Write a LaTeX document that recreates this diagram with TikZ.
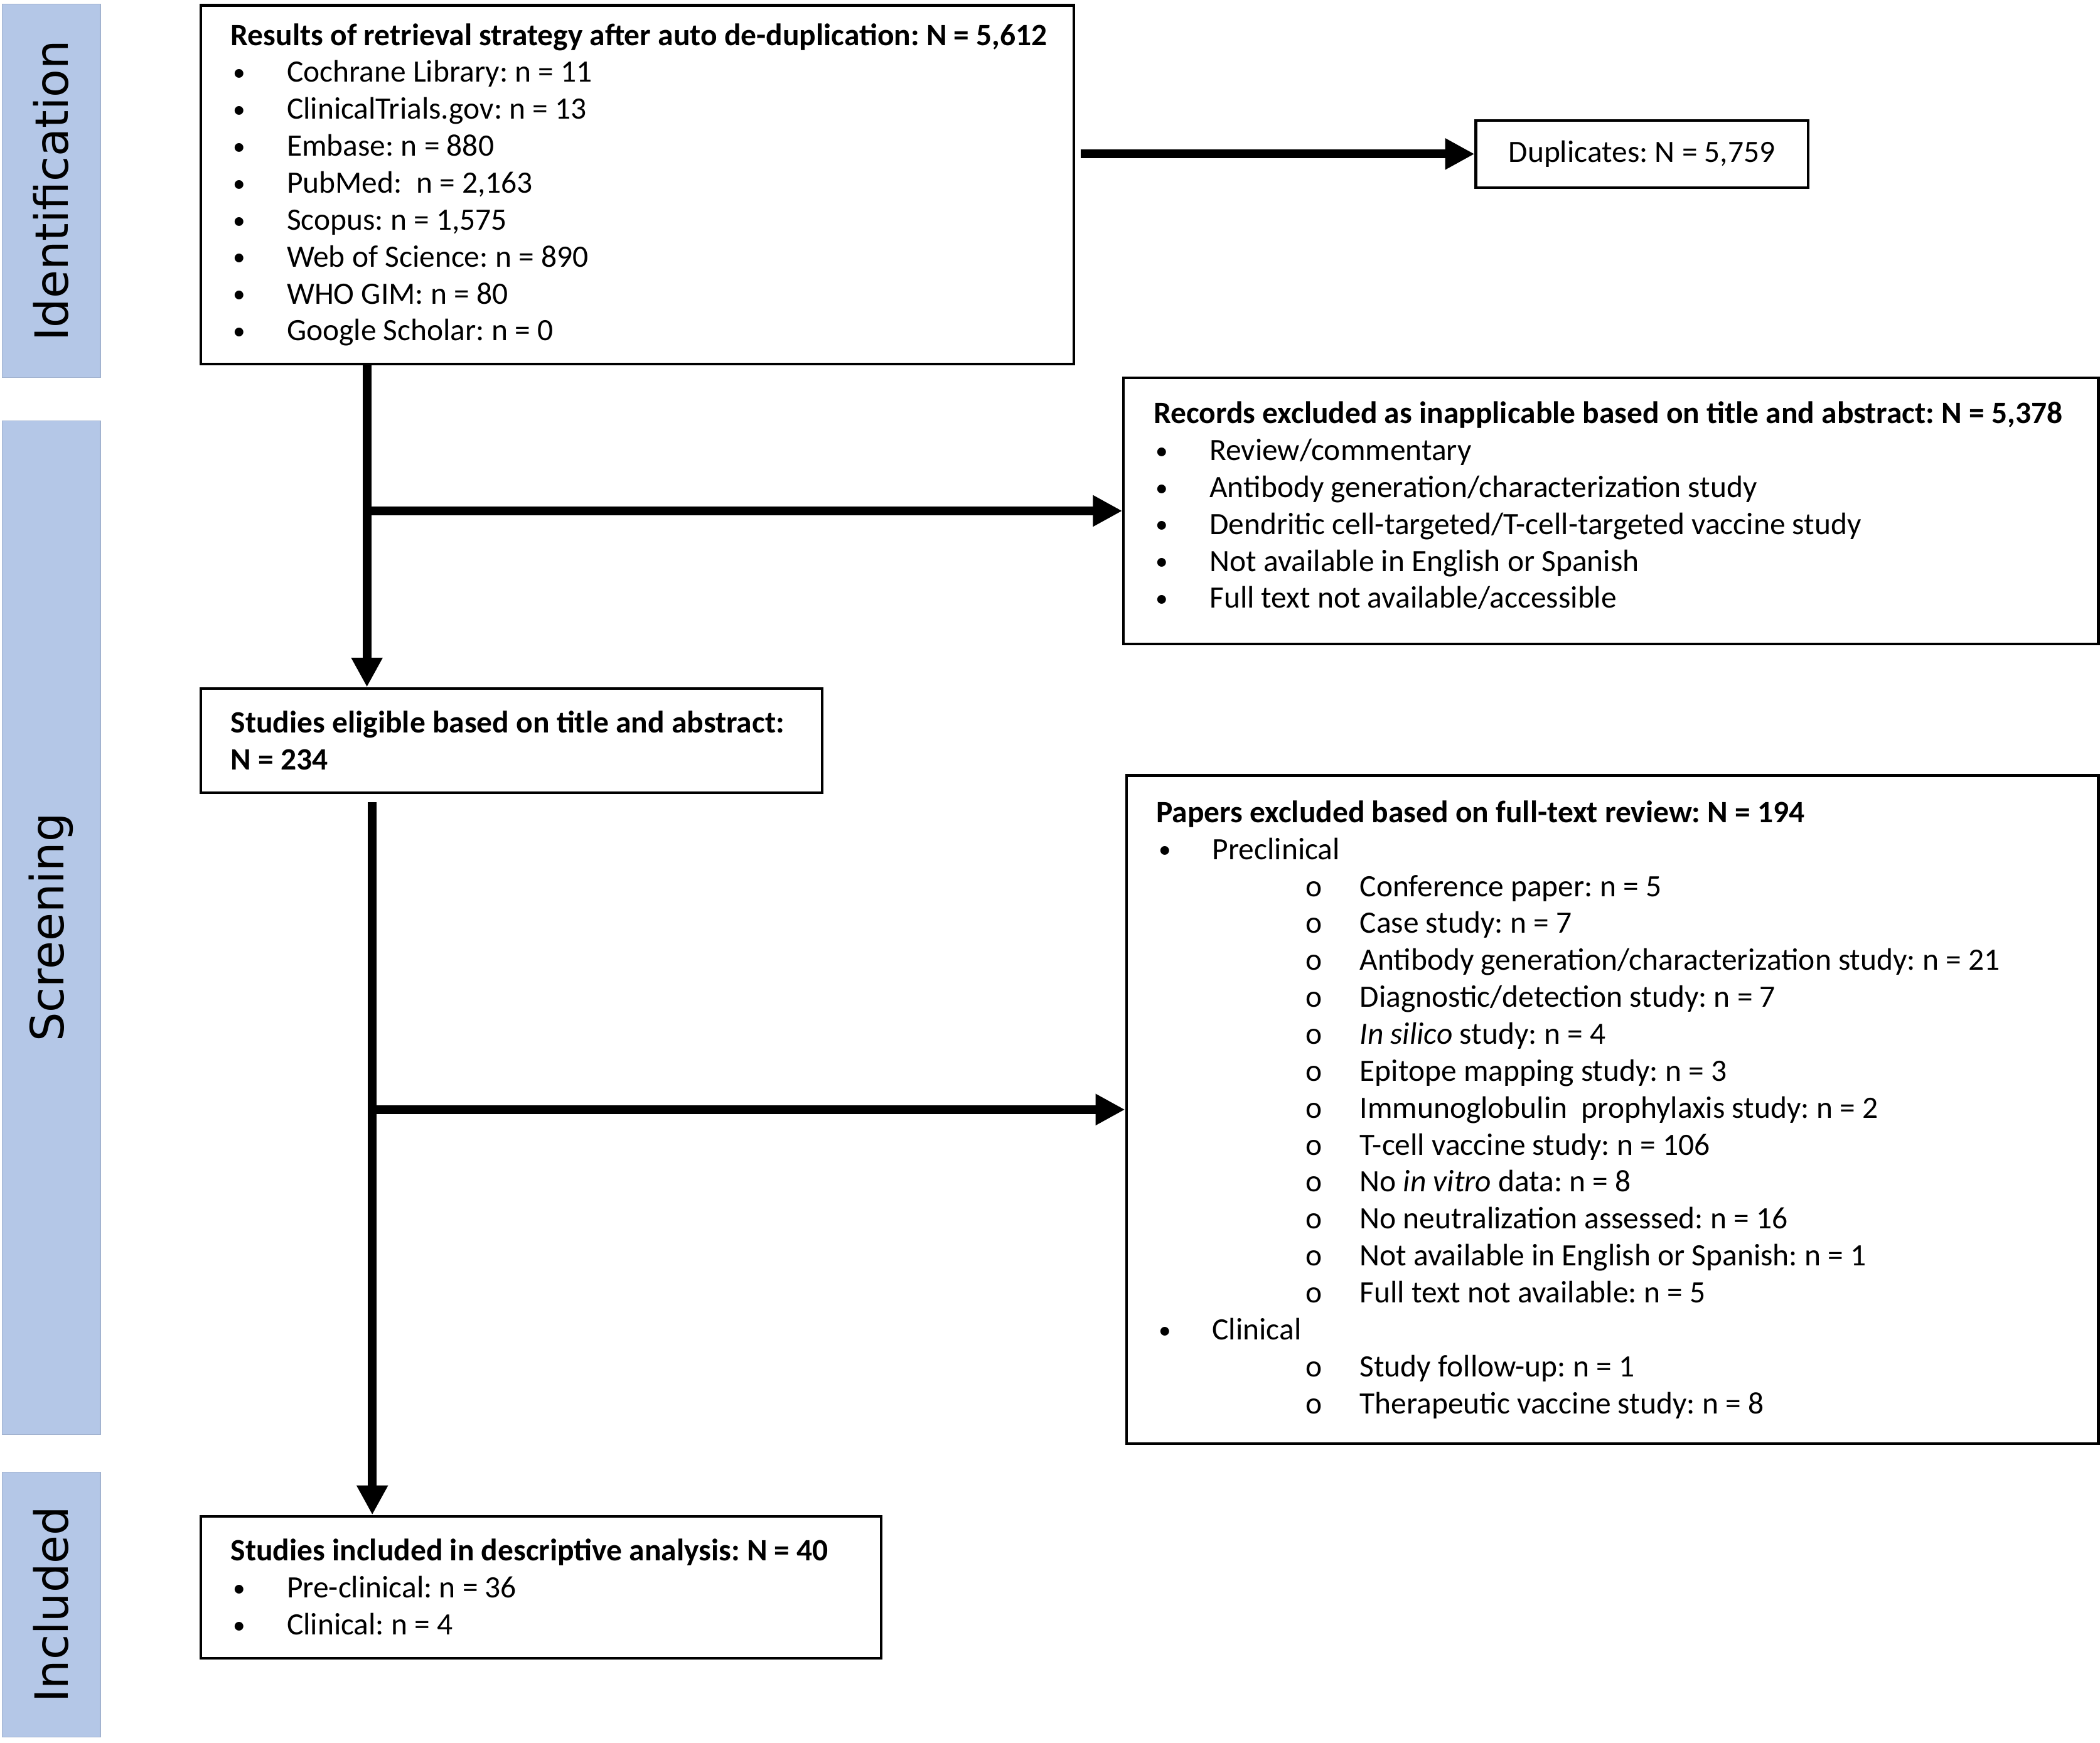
\documentclass[tikz,border=0pt]{standalone}
\usepackage{fontspec}
\setmainfont{Carlito}
\newfontfamily\barfont{DejaVu Sans}
\usetikzlibrary{arrows.meta}

\definecolor{barblue}{RGB}{180,199,231}

% list lines inside the boxes
\newcommand{\bul}[1]{\hspace*{1pt}\makebox[22.8pt][l]{\raisebox{0.6pt}{\fontsize{10.5}{1}\selectfont\textbullet}}#1}
\newcommand{\subbul}[1]{\hspace*{63.5pt}\makebox[23pt][l]{o}#1}

\tikzset{
	box/.style={draw, line width=1.1pt, anchor=north west, inner sep=0pt},
	txt/.style={anchor=west, align=left, inner sep=0pt, font=\frenchspacing\fontsize{13.2}{15.7}\selectfont},
	bar/.style={fill=barblue, draw=barblue!90!black, line width=0.3pt, rotate=90, inner sep=0pt,
		font=\barfont\fontsize{19.5}{20}\selectfont},
	flow/.style={line width=3.8pt, -{Triangle[length=0.44cm, width=0.44cm]}}
}

\begin{document}
\begin{tikzpicture}[x=0.02cm, y=-0.02cm]
				\useasboundingbox (0,0) rectangle (1568,1301);
				% phase bars
				\node[bar, minimum width=5.58cm, minimum height=1.47cm] (idbar) at (38.25,142.5) {Identification};
				\node[bar, minimum width=15.14cm, minimum height=1.47cm] (scrbar) at (38.25,692.5) {Screening};
				\node[bar, minimum width=3.96cm, minimum height=1.47cm] (incbar) at (38.25,1198) {Included};
				% boxes
				\node[box, minimum width=13.04cm, minimum height=5.36cm] (res) at (149,3) {};
				\node[txt] (restxt) at ([xshift=0.46cm]res.west) {\textbf{Results of retrieval strategy after auto de-duplication: N = 5,612}\\
					\bul{Cochrane Library: n = 11}\\
					\bul{ClinicalTrials.gov: n = 13}\\
					\bul{Embase: n = 880}\\
					\bul{PubMed:\ \ n = 2,163}\\
					\bul{Scopus:\ n = 1,575}\\
					\bul{Web of Science: n = 890}\\
					\bul{WHO GIM: n = 80}\\
					\bul{Google Scholar: n = 0}};
				\node[box, minimum width=4.96cm, minimum height=1cm] (dup) at (1101,89) {};
				\node[txt, anchor=center] (duptxt) at (dup.center) {Duplicates: N = 5,759};
				\node[box, minimum width=14.56cm, minimum height=3.98cm] (recx) at (838,281) {};
				\node[txt] (recxtxt) at ([xshift=0.46cm,yshift=0.08cm]recx.west) {\textbf{Records excluded as inapplicable based on title and abstract: N = 5,378}\\
					\bul{Review/commentary}\\
					\bul{Antibody generation/characterization study}\\
					\bul{Dendritic cell-targeted/T-cell-targeted vaccine study}\\
					\bul{Not available in English or Spanish}\\
					\bul{Full text not available/accessible}};
				\node[box, minimum width=9.28cm, minimum height=1.56cm] (elig) at (149,513) {};
				\node[txt] (eligtxt) at ([xshift=0.46cm]elig.west) {\textbf{Studies eligible based on title and abstract:}\\
					\textbf{N = 234}};
				\node[box, minimum width=14.52cm, minimum height=9.98cm] (papx) at (840,578) {};
				\node[txt] (papxtxt) at ([xshift=0.46cm]papx.west) {\textbf{Papers excluded based on full-text review: N = 194}\\
					\bul{Preclinical}\\
					\subbul{Conference paper: n = 5}\\
					\subbul{Case study: n = 7}\\
					\subbul{Antibody generation/characterization study: n = 21}\\
					\subbul{Diagnostic/detection study: n = 7}\\
					\subbul{\textit{In silico} study: n = 4}\\
					\subbul{Epitope mapping study: n = 3}\\
					\subbul{Immunoglobulin\ \ prophylaxis study: n = 2}\\
					\subbul{T-cell vaccine study: n = 106}\\
					\subbul{No \textit{in vitro}\ data: n = 8}\\
					\subbul{No neutralization assessed: n = 16}\\
					\subbul{Not available in English or Spanish: n = 1}\\
					\subbul{Full text not available: n = 5}\\
					\bul{Clinical}\\
					\subbul{Study follow-up: n = 1}\\
					\subbul{Therapeutic vaccine study: n = 8}};
				\node[box, minimum width=10.16cm, minimum height=2.12cm] (incl) at (149,1131) {};
				\node[txt] (incltxt) at ([xshift=0.46cm]incl.west) {\textbf{Studies included in descriptive analysis: N = 40}\\
					\bul{Pre-clinical: n = 36}\\
					\bul{Clinical: n = 4}};
				% arrows
				\draw[flow] ([xshift=0.08cm]res.east |- dup.west) -- (dup.west);
				\draw[flow] ([xshift=2.5cm]res.south west) -- ([xshift=2.5cm]elig.north west);
				\draw[flow] ([xshift=2.5cm]res.south west |- recx.west) -- (recx.west);
				\draw[flow] ([xshift=2.58cm,yshift=-0.12cm]elig.south west) -- ([xshift=2.58cm]incl.north west);
				\draw[flow] ([xshift=2.58cm]elig.south west |- papx.west) -- (papx.west);
			\end{tikzpicture}
\end{document}
